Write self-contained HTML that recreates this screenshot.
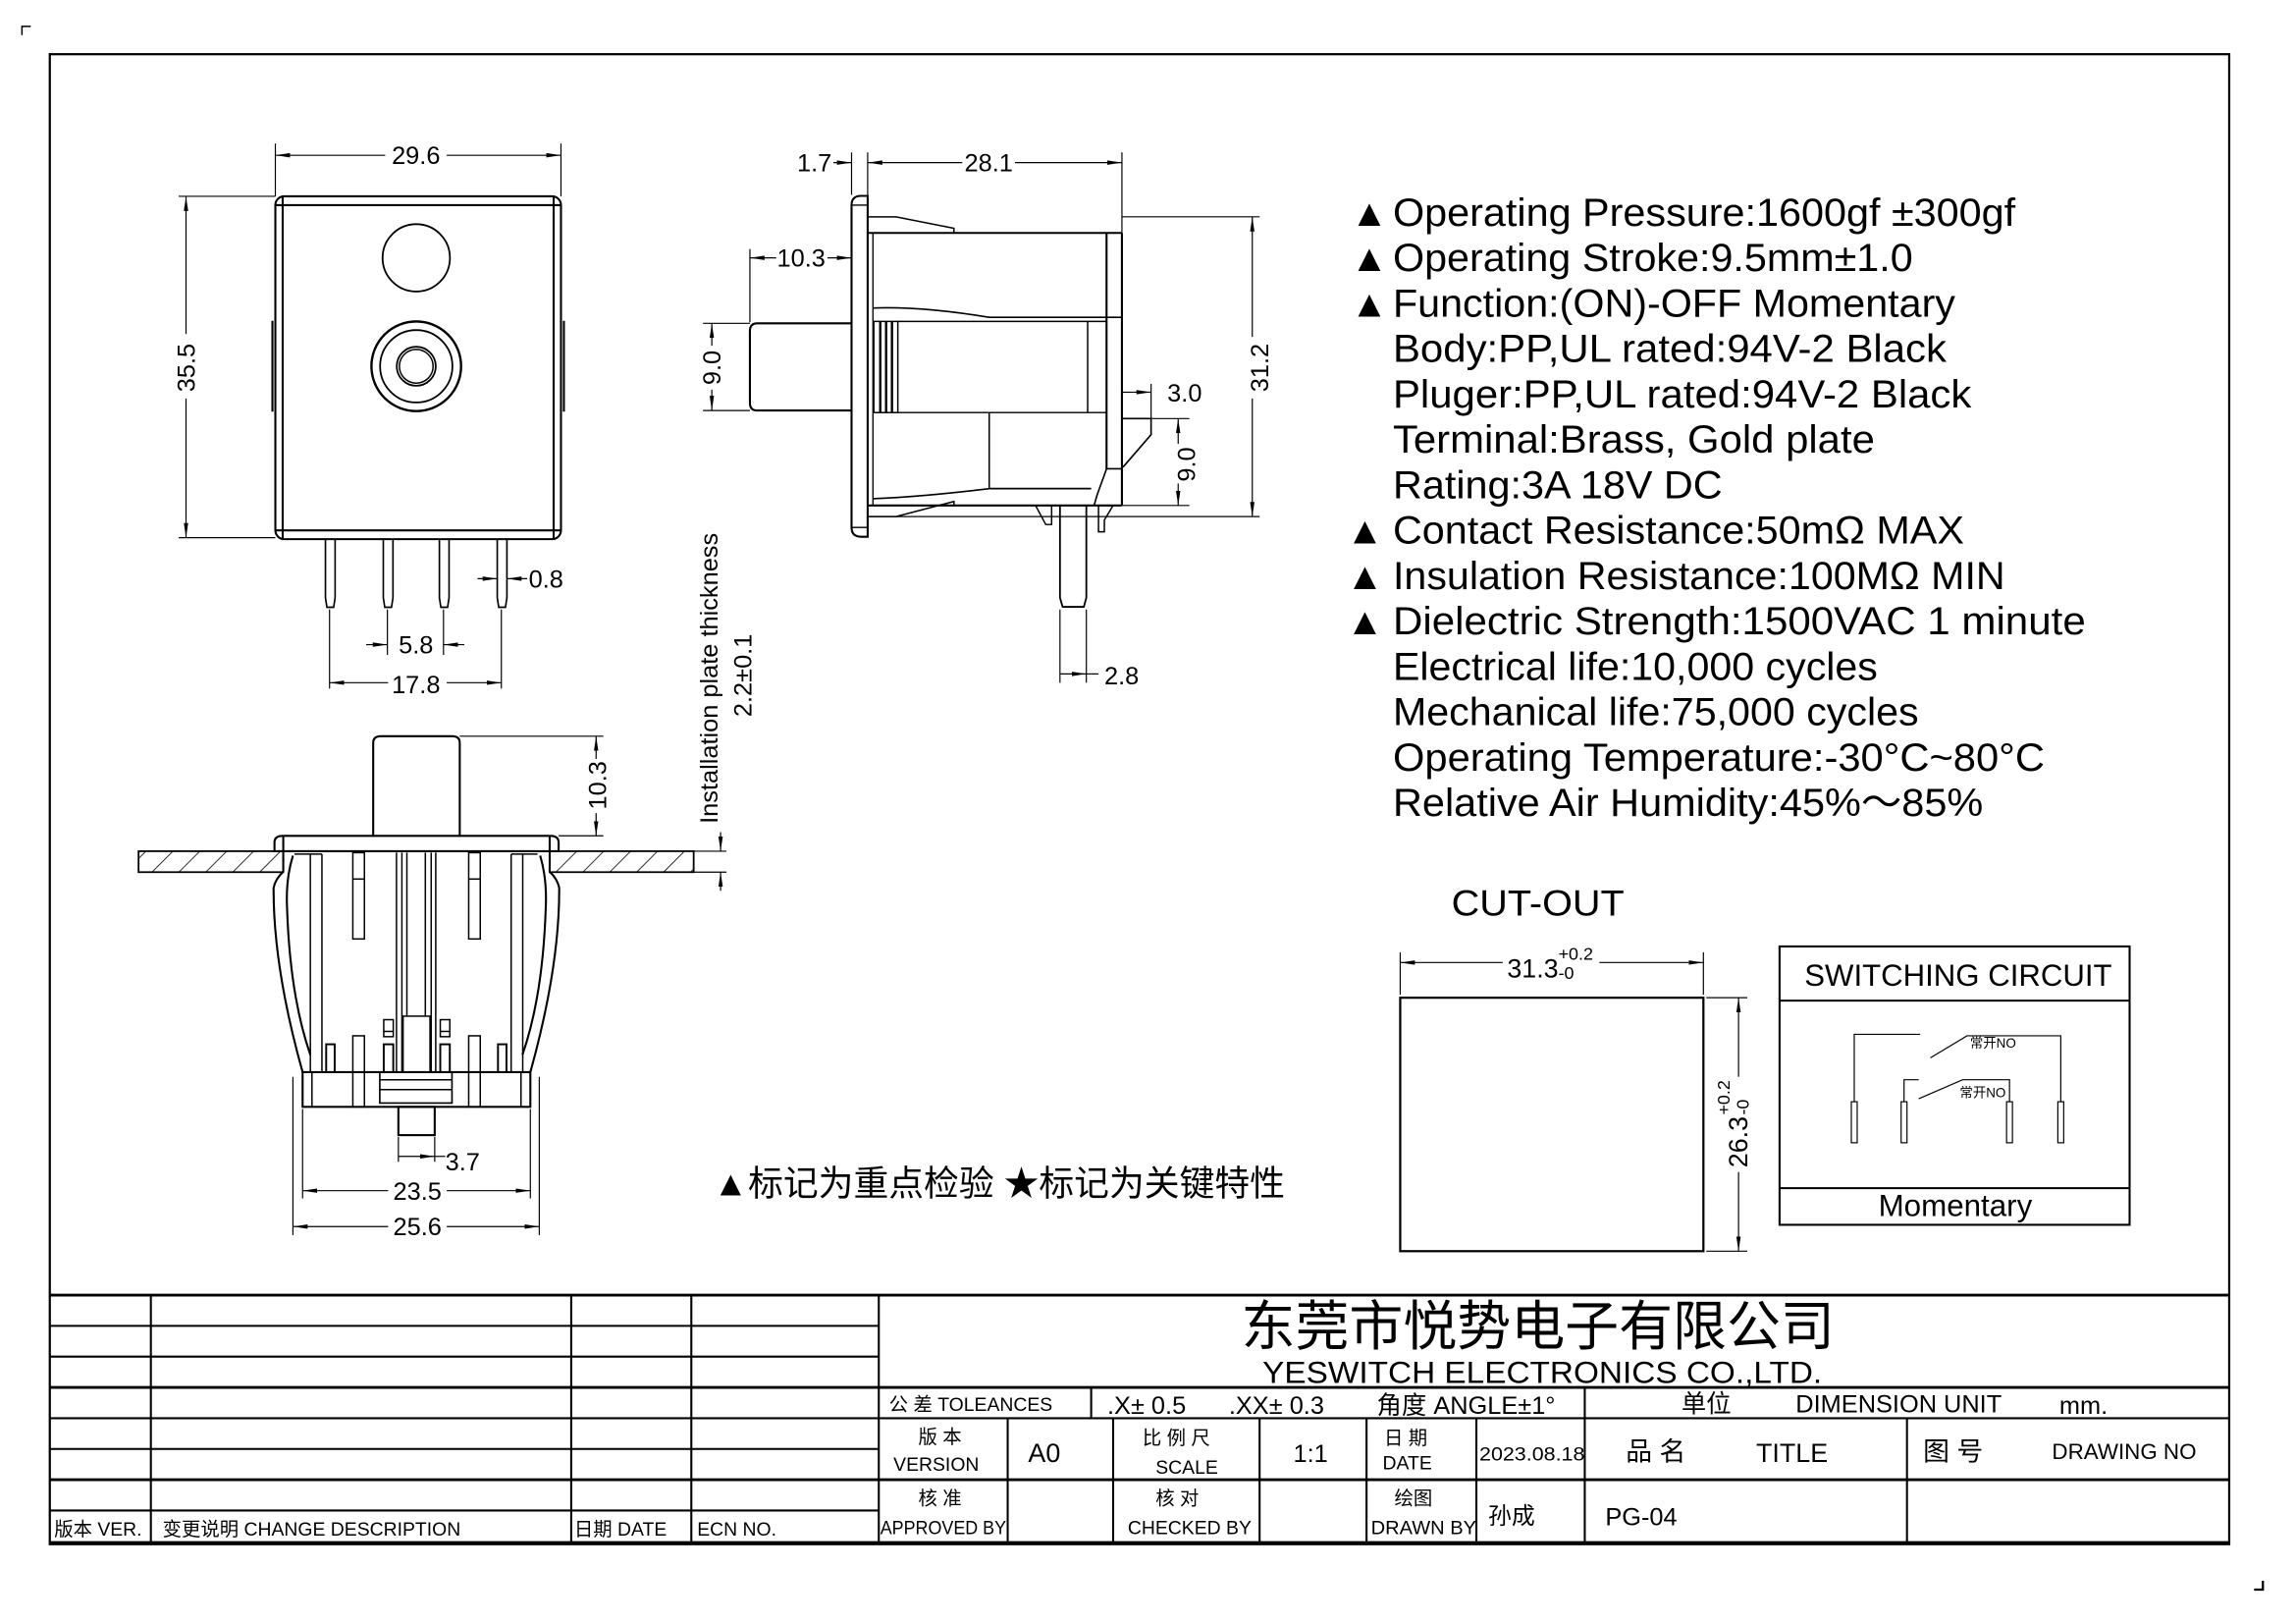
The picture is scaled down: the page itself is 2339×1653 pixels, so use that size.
<!DOCTYPE html>
<html><head><meta charset="utf-8"><style>
html,body{margin:0;padding:0;background:#fff;}
svg{display:block;}
text{font-family:"Liberation Sans","Noto Sans CJK SC",sans-serif;fill:#000;}
</style></head><body>
<svg width="2339" height="1653" viewBox="0 0 1567.6 1107.8" preserveAspectRatio="none" xmlns="http://www.w3.org/2000/svg">
<defs>
<pattern id="h" patternUnits="userSpaceOnUse" width="13" height="13" patternTransform="rotate(45)">
<line x1="0" y1="0" x2="0" y2="13" stroke="#000" stroke-width="1.1"/>
</pattern>
<marker id="a" viewBox="0 0 10 6" refX="10" refY="3" markerWidth="10" markerHeight="6" orient="auto-start-reverse" markerUnits="userSpaceOnUse"><path d="M0,1.5 L10,3 L0,4.5z" fill="#000"/></marker>
</defs>
<g fill="none" stroke="#000">
<path d="M15,24 V18 H21" stroke-width="1"/>
<path d="M1545,1079 V1085 H1539" stroke-width="1.5"/>
<rect x="34" y="37" width="1488" height="1017" stroke-width="1.5"/>

<g stroke-width="1.4">
<line x1="34" y1="884" x2="1522" y2="884" stroke-width="2"/>
<line x1="34" y1="905" x2="600" y2="905"/>
<line x1="34" y1="926" x2="600" y2="926"/>
<line x1="34" y1="947" x2="1522" y2="947" stroke-width="2"/>
<line x1="34" y1="968" x2="1522" y2="968"/>
<line x1="34" y1="989" x2="600" y2="989"/>
<line x1="34" y1="1010" x2="1522" y2="1010" stroke-width="2"/>
<line x1="34" y1="1031" x2="600" y2="1031"/>
<line x1="34" y1="1053" x2="1522" y2="1053" stroke-width="2.2"/>
<line x1="103" y1="884" x2="103" y2="1053"/>
<line x1="390" y1="884" x2="390" y2="1053"/>
<line x1="472" y1="884" x2="472" y2="1053"/>
<line x1="600" y1="884" x2="600" y2="1053"/>
<line x1="745" y1="947" x2="745" y2="968"/>
<line x1="1082" y1="947" x2="1082" y2="1053"/>
<line x1="688" y1="968" x2="688" y2="1053"/>
<line x1="760" y1="968" x2="760" y2="1053"/>
<line x1="860" y1="968" x2="860" y2="1053"/>
<line x1="933" y1="968" x2="933" y2="1053"/>
<line x1="1008" y1="968" x2="1008" y2="1053"/>
<line x1="1302" y1="968" x2="1302" y2="1053"/>
</g>

<g stroke-width="1.4">
<rect x="188" y="134" width="195" height="234" rx="6"/>
<line x1="188" y1="140" x2="383" y2="140"/>
<line x1="188" y1="362" x2="383" y2="362"/>
<line x1="193" y1="134" x2="193" y2="368"/>
<line x1="378" y1="134" x2="378" y2="368"/>
<line x1="186" y1="219" x2="186" y2="281"/>
<line x1="385" y1="219" x2="385" y2="281"/>
<circle cx="284.2" cy="176" r="23" stroke-width="1.2"/>
<circle cx="284.2" cy="250" r="30.6" stroke-width="1.6"/>
<circle cx="284.2" cy="250" r="24.7" stroke-width="1.2"/>
<circle cx="284.2" cy="250" r="13.3" stroke-width="1.2"/>
<circle cx="284.2" cy="250" r="11.5" stroke-width="1"/>
</g>
<g stroke-width="1.1">
<path d="M222.2,368 V408 L223.2,414.5 H227.8 L228.8,408 V368"/>
<path d="M261.7,368 V408 L262.7,414.5 H267.3 L268.3,408 V368"/>
<path d="M300,368 V408 L301,414.5 H305.6 L306.6,408 V368"/>
<path d="M339.5,368 V408 L340.5,414.5 H345.1 L346.1,408 V368"/>
</g>
<g stroke-width="0.8">
<line x1="188" y1="98" x2="188" y2="134"/><line x1="383" y1="98" x2="383" y2="134"/>
<line x1="188" y1="106" x2="263" y2="106" marker-start="url(#a)"/><line x1="305" y1="106" x2="383" y2="106" marker-end="url(#a)"/>
<line x1="122" y1="134" x2="188" y2="134"/><line x1="122" y1="367" x2="188" y2="367"/>
<line x1="127" y1="134" x2="127" y2="228" marker-start="url(#a)"/><line x1="127" y1="272" x2="127" y2="367" marker-end="url(#a)"/>
<line x1="326" y1="395" x2="339.5" y2="395" marker-end="url(#a)"/><line x1="360" y1="395" x2="346.1" y2="395" marker-end="url(#a)"/>
<line x1="225" y1="416" x2="225" y2="470"/><line x1="342.3" y1="416" x2="342.3" y2="470"/>
<line x1="264.5" y1="416" x2="264.5" y2="447"/><line x1="302.8" y1="416" x2="302.8" y2="447"/>
<line x1="250" y1="440" x2="264.5" y2="440" marker-end="url(#a)"/><line x1="317" y1="440" x2="302.8" y2="440" marker-end="url(#a)"/>
<line x1="225" y1="466" x2="265" y2="466" marker-start="url(#a)"/><line x1="305" y1="466" x2="342.3" y2="466" marker-end="url(#a)"/>
</g>

<g stroke-width="1.4">
<path d="M592.4,133.7 H588 Q581.4,133.7 581.4,140 V360 Q581.4,366.4 588,366.4 H592.4 Z"/>
<line x1="581.4" y1="140" x2="592.4" y2="140" stroke-width="0.9"/>
<line x1="581.4" y1="360" x2="592.4" y2="360" stroke-width="0.9"/>
<line x1="592.4" y1="159" x2="766" y2="159"/>
<line x1="592.4" y1="345" x2="766" y2="345"/>
<line x1="766" y1="159" x2="766" y2="345"/>
<line x1="755.5" y1="159" x2="755.5" y2="320"/>
<path d="M592.4,148 H611.8 L651.3,155.8 V159" stroke-width="1"/>
<path d="M592.4,352.6 H611.8 L651.3,342.3 V345" stroke-width="1"/>
<line x1="596" y1="159" x2="596" y2="345" stroke-width="0.9"/>
<path d="M512,226 Q512,220.7 517,220.7 H581.4 M512,226 V275 Q512,280.2 517,280.2 H581.4"/>
<path d="M596,210.2 Q630,209 675.4,216.6 H766" stroke-width="1.1"/>
<rect x="596.6" y="219.4" width="16.4" height="62.2" stroke-width="1"/>
<g stroke-width="1.6"><line x1="601" y1="219.4" x2="601" y2="281.6"/><line x1="605" y1="219.4" x2="605" y2="281.6"/><line x1="609" y1="219.4" x2="609" y2="281.6"/></g>
<line x1="613" y1="219.4" x2="755.5" y2="219.4" stroke-width="1"/>
<line x1="613" y1="281.6" x2="755.5" y2="281.6" stroke-width="1"/>
<line x1="742.6" y1="219.4" x2="742.6" y2="281.6" stroke-width="1"/>
<line x1="675.4" y1="281.6" x2="675.4" y2="334" stroke-width="1"/>
<path d="M596,340.4 Q630,339 675.4,333.5 H745" stroke-width="1.1"/>
<path d="M766,285.7 H785.9 V296.7 L766.7,318.9" stroke-width="1.1"/>
<path d="M755.5,320 H766 M755.5,320 L749,338 L747,345" stroke-width="1.1"/>
<path d="M723.7,345 V408 L725.5,414.2 H740 L741.7,408 V345" stroke-width="1.2"/>
<path d="M707,345 L714,358 H718 V345 M750,345 V363 H754 V355 L760,345" stroke-width="1"/>
</g>
<g stroke-width="0.8">
<line x1="581.4" y1="104" x2="581.4" y2="133"/><line x1="592.4" y1="104" x2="592.4" y2="133"/><line x1="766" y1="104" x2="766" y2="159"/>
<line x1="569" y1="111" x2="581.4" y2="111" marker-end="url(#a)"/>
<line x1="592.4" y1="111" x2="657" y2="111" marker-start="url(#a)"/><line x1="693" y1="111" x2="766" y2="111" marker-end="url(#a)"/>
<line x1="766" y1="148" x2="860" y2="148"/><line x1="592.4" y1="352.6" x2="860" y2="352.6"/>
<line x1="855" y1="148" x2="855" y2="230" marker-start="url(#a)"/><line x1="855" y1="272" x2="855" y2="352.6" marker-end="url(#a)"/>
<line x1="512" y1="170" x2="512" y2="220"/>
<line x1="512" y1="176" x2="530" y2="176" marker-start="url(#a)"/><line x1="565" y1="176" x2="581.4" y2="176" marker-end="url(#a)"/>
<line x1="480" y1="220.7" x2="512" y2="220.7"/><line x1="480" y1="280.2" x2="512" y2="280.2"/>
<line x1="486" y1="220.7" x2="486" y2="236" marker-start="url(#a)"/><line x1="486" y1="266" x2="486" y2="280.2" marker-end="url(#a)"/>
<line x1="766" y1="267.7" x2="785.9" y2="267.7" marker-end="url(#a)"/>
<line x1="785.9" y1="262" x2="785.9" y2="285.7"/>
<line x1="785.9" y1="285.7" x2="812" y2="285.7"/><line x1="766" y1="345" x2="812" y2="345"/>
<line x1="804.4" y1="285.7" x2="804.4" y2="303" marker-start="url(#a)"/><line x1="804.4" y1="330" x2="804.4" y2="345" marker-end="url(#a)"/>
<line x1="723.7" y1="416" x2="723.7" y2="466"/><line x1="741.7" y1="416" x2="741.7" y2="466"/>
<line x1="723.7" y1="460" x2="741.7" y2="460" marker-end="url(#a)"/><line x1="741.7" y1="460" x2="750" y2="460"/>
</g>

<rect x="94.6" y="581" width="98.8" height="14.3" fill="url(#h)" stroke-width="1.2"/>
<rect x="375.3" y="581" width="98.3" height="14.3" fill="url(#h)" stroke-width="1.2"/>
<g stroke-width="1.4">
<path d="M254.8,570.5 V507 Q254.8,502.5 260,502.5 H308.7 Q313.9,502.5 313.9,507 V570.5"/>
<path d="M187.4,581 V575 Q187.4,570.5 193,570.5 H375.8 Q381.4,570.5 381.4,575 V581 Z"/>
<line x1="193.4" y1="570.5" x2="193.4" y2="595"/><line x1="375.3" y1="570.5" x2="375.3" y2="595"/>
<path d="M193.4,595 Q188,600 186.8,606 Q186.5,660 206.6,731.8"/>
<path d="M375.3,595 Q380.6,600 381.8,606 Q382.1,660 362.1,731.8"/>
<path d="M200,584 Q195,600 196,620 Q198,680 211.9,720"/>
<path d="M368.8,584 Q373.6,600 372.6,620 Q370.6,680 356.7,720" />
<rect x="206.6" y="731.8" width="155.5" height="23.7"/>
<rect x="272" y="755.5" width="24.8" height="19.3"/>
<rect x="259.3" y="731.8" width="49.3" height="21.1" stroke-width="1.1"/>
<line x1="259.3" y1="737" x2="308.6" y2="737" stroke-width="1"/>
<line x1="259.3" y1="743.7" x2="308.6" y2="743.7" stroke-width="1"/>
</g>
<g stroke-width="1">
<line x1="211.9" y1="583" x2="211.9" y2="731.8"/><line x1="219.8" y1="583" x2="219.8" y2="731.8"/>
<line x1="349" y1="583" x2="349" y2="731.8"/><line x1="356.9" y1="583" x2="356.9" y2="731.8"/>
<line x1="201" y1="583" x2="219.8" y2="583"/><line x1="349" y1="583" x2="367" y2="583"/>
<rect x="240.9" y="582" width="7.9" height="58.9"/><line x1="240.9" y1="600" x2="248.8" y2="600"/>
<rect x="320" y="582" width="7.9" height="58.9"/><line x1="320" y1="600" x2="327.9" y2="600"/>
<rect x="240.9" y="707" width="7.9" height="48.5"/><rect x="320" y="707" width="7.9" height="48.5"/>
<line x1="270.7" y1="582" x2="270.7" y2="731.8"/><line x1="274.4" y1="582" x2="274.4" y2="731.8"/>
<line x1="277.8" y1="582" x2="277.8" y2="693.6"/><line x1="290.4" y1="582" x2="290.4" y2="693.6"/>
<line x1="294.4" y1="582" x2="294.4" y2="731.8"/><line x1="297.5" y1="582" x2="297.5" y2="731.8"/>
<rect x="275.2" y="693.6" width="18.4" height="38.2"/>
<rect x="262" y="696" width="6.5" height="11.6"/><rect x="300.6" y="696" width="6.5" height="11.6"/>
<line x1="262" y1="704" x2="268.5" y2="704"/><line x1="300.6" y1="704" x2="307.1" y2="704"/>
<rect x="222.7" y="712.8" width="5.8" height="19" stroke-width="1.3"/>
<rect x="262" y="712.8" width="6.5" height="19" stroke-width="1.3"/>
<rect x="300.6" y="712.8" width="6.5" height="19" stroke-width="1.3"/>
<rect x="340" y="712.8" width="5.8" height="19" stroke-width="1.3"/>
<line x1="213" y1="731.8" x2="213" y2="755.5"/><line x1="355.7" y1="731.8" x2="355.7" y2="755.5"/>
</g>
<g stroke-width="0.8">
<line x1="313.9" y1="502.5" x2="412" y2="502.5"/><line x1="381.4" y1="570.5" x2="412" y2="570.5"/>
<line x1="407" y1="502.5" x2="407" y2="518" marker-start="url(#a)"/><line x1="407" y1="555" x2="407" y2="570.5" marker-end="url(#a)"/>
<line x1="473.6" y1="581" x2="496" y2="581"/><line x1="473.6" y1="595.3" x2="496" y2="595.3"/>
<line x1="492" y1="568" x2="492" y2="581" marker-end="url(#a)"/><line x1="492" y1="608" x2="492" y2="595.3" marker-end="url(#a)"/>
<line x1="272" y1="776" x2="272" y2="793"/><line x1="296.8" y1="776" x2="296.8" y2="793"/>
<line x1="272" y1="789.3" x2="296.8" y2="789.3" marker-end="url(#a)"/><line x1="296.8" y1="789.3" x2="304" y2="789.3"/>
<line x1="206.6" y1="757" x2="206.6" y2="818"/><line x1="362.1" y1="757" x2="362.1" y2="818"/>
<line x1="206.6" y1="812.7" x2="265" y2="812.7" marker-start="url(#a)"/><line x1="305" y1="812.7" x2="362.1" y2="812.7" marker-end="url(#a)"/>
<line x1="200" y1="735" x2="200" y2="843"/><line x1="368.2" y1="735" x2="368.2" y2="843"/>
<line x1="200" y1="837.2" x2="265" y2="837.2" marker-start="url(#a)"/><line x1="305" y1="837.2" x2="368.2" y2="837.2" marker-end="url(#a)"/>
</g>

<rect x="956" y="681" width="207" height="173" stroke-width="1.5"/>
<g stroke-width="0.8">
<line x1="956" y1="650" x2="956" y2="679"/><line x1="1163" y1="650" x2="1163" y2="679"/>
<line x1="956" y1="657" x2="1026" y2="657" marker-start="url(#a)"/><line x1="1092" y1="657" x2="1163" y2="657" marker-end="url(#a)"/>
<line x1="1165" y1="681" x2="1193" y2="681"/><line x1="1165" y1="854" x2="1193" y2="854"/>
<line x1="1187" y1="681" x2="1187" y2="735" marker-start="url(#a)"/><line x1="1187" y1="800" x2="1187" y2="854" marker-end="url(#a)"/>
</g>

<rect x="1215" y="646" width="239" height="190" stroke-width="1.4"/>
<line x1="1215" y1="683" x2="1454" y2="683" stroke-width="1.4"/>
<line x1="1215" y1="811" x2="1454" y2="811" stroke-width="1.4"/>
<g stroke-width="0.8">
<path d="M1266,752 V706 H1311"/><path d="M1318,722 L1343,707 H1407 V752"/>
<path d="M1300,752 V737 H1310"/><path d="M1310,750 L1340,737 H1372 V752"/>
<rect x="1264" y="752" width="4" height="28"/><rect x="1298" y="752" width="4" height="28"/>
<rect x="1370" y="752" width="4" height="28"/><rect x="1405" y="752" width="4" height="28"/>
</g>
</g>

<g font-size="17">
<text x="284" y="112" text-anchor="middle">29.6</text>
<text transform="translate(133,251) rotate(-90)" text-anchor="middle">35.5</text>
<text x="361" y="401">0.8</text>
<text x="284" y="446" text-anchor="middle">5.8</text>
<text x="284" y="473" text-anchor="middle">17.8</text>
<text x="556" y="117" text-anchor="middle">1.7</text>
<text x="675" y="117" text-anchor="middle">28.1</text>
<text x="547" y="182" text-anchor="middle">10.3</text>
<text transform="translate(492,251) rotate(-90)" text-anchor="middle">9.0</text>
<text x="797" y="274">3.0</text>
<text transform="translate(816,317) rotate(-90)" text-anchor="middle">9.0</text>
<text transform="translate(866,251) rotate(-90)" text-anchor="middle">31.2</text>
<text x="754" y="467">2.8</text>
<text transform="translate(414,536) rotate(-90)" text-anchor="middle">10.3</text>
<text x="304" y="799">3.7</text>
<text x="285" y="819" text-anchor="middle">23.5</text>
<text x="285" y="843" text-anchor="middle">25.6</text>
<text transform="translate(490,463) rotate(-90)" text-anchor="middle">Installation plate thickness</text>
<text transform="translate(513,461) rotate(-90)" text-anchor="middle">2.2±0.1</text>
</g>
<text x="487" y="816" font-size="24">▲标记为重点检验 ★标记为关键特性</text>

<g font-size="27">
<text x="922" y="154" font-size="26">▲</text><text x="951" y="154" textLength="425" lengthAdjust="spacingAndGlyphs">Operating Pressure:1600gf ±300gf</text>
<text x="922" y="185" font-size="26">▲</text><text x="951" y="185" textLength="355" lengthAdjust="spacingAndGlyphs">Operating Stroke:9.5mm±1.0</text>
<text x="922" y="216" font-size="26">▲</text><text x="951" y="216" textLength="384" lengthAdjust="spacingAndGlyphs">Function:(ON)-OFF Momentary</text>
<text x="951" y="247" textLength="378" lengthAdjust="spacingAndGlyphs">Body:PP,UL rated:94V-2 Black</text>
<text x="951" y="278" textLength="395" lengthAdjust="spacingAndGlyphs">Pluger:PP,UL rated:94V-2 Black</text>
<text x="951" y="309" textLength="329" lengthAdjust="spacingAndGlyphs">Terminal:Brass, Gold plate</text>
<text x="951" y="340" textLength="225" lengthAdjust="spacingAndGlyphs">Rating:3A 18V DC</text>
<text x="919" y="371" font-size="26">▲</text><text x="951" y="371" textLength="390" lengthAdjust="spacingAndGlyphs">Contact Resistance:50mΩ MAX</text>
<text x="919" y="402" font-size="26">▲</text><text x="951" y="402" textLength="418" lengthAdjust="spacingAndGlyphs">Insulation Resistance:100MΩ MIN</text>
<text x="919" y="433" font-size="26">▲</text><text x="951" y="433" textLength="473" lengthAdjust="spacingAndGlyphs">Dielectric Strength:1500VAC  1 minute</text>
<text x="951" y="464" textLength="331" lengthAdjust="spacingAndGlyphs">Electrical life:10,000 cycles</text>
<text x="951" y="495" textLength="359" lengthAdjust="spacingAndGlyphs">Mechanical life:75,000 cycles</text>
<text x="951" y="526" textLength="445" lengthAdjust="spacingAndGlyphs">Operating Temperature:-30°C~80°C</text>
<text x="951" y="557" textLength="403" lengthAdjust="spacingAndGlyphs">Relative Air Humidity:45%～85%</text>
</g>

<text x="991" y="625" font-size="25" textLength="118" lengthAdjust="spacingAndGlyphs">CUT-OUT</text>
<text x="1029" y="667" font-size="18">31.3</text><text x="1064" y="655" font-size="12">+0.2</text><text x="1064" y="668" font-size="12">-0</text>
<g transform="translate(1193,797) rotate(-90)"><text x="0" y="0" font-size="18">26.3</text><text x="36" y="-12" font-size="12">+0.2</text><text x="36" y="1" font-size="12">-0</text></g>
<text x="1337" y="673" font-size="21" text-anchor="middle" textLength="210" lengthAdjust="spacingAndGlyphs">SWITCHING CIRCUIT</text>
<text x="1335" y="830" font-size="21" text-anchor="middle">Momentary</text>
<text x="1345" y="715" font-size="9" font-family="Noto Serif CJK SC,serif">常开NO</text>
<text x="1338" y="749" font-size="9" font-family="Noto Serif CJK SC,serif">常开NO</text>

<text x="1050" y="918" font-size="37" text-anchor="middle" textLength="405" lengthAdjust="spacingAndGlyphs" font-family="Noto Serif CJK SC,serif">东莞市悦势电子有限公司</text>
<text x="1053" y="944" font-size="21" text-anchor="middle" textLength="382" lengthAdjust="spacingAndGlyphs">YESWITCH ELECTRONICS CO.,LTD.</text>

<g font-size="13">
<text x="37" y="1048">版本 VER.</text>
<text x="111" y="1048">变更说明  CHANGE DESCRIPTION</text>
<text x="392" y="1048">日期  DATE</text>
<text x="476" y="1048">ECN NO.</text>
<text x="607" y="963">公  差 TOLEANCES</text>
<text x="627" y="985">版  本</text>
<text x="610" y="1004">VERSION</text>
<text x="780" y="986">比 例 尺</text>
<text x="789" y="1006">SCALE</text>
<text x="945" y="986">日  期</text>
<text x="944" y="1003">DATE</text>
<text x="1010" y="997" textLength="72" lengthAdjust="spacingAndGlyphs">2023.08.18</text>
<text x="627" y="1027">核  准</text>
<text x="601" y="1047" textLength="86" lengthAdjust="spacingAndGlyphs">APPROVED BY</text>
<text x="789" y="1027">核  对</text>
<text x="770" y="1047">CHECKED BY</text>
<text x="952" y="1027">绘图</text>
<text x="936" y="1047" textLength="72" lengthAdjust="spacingAndGlyphs">DRAWN BY</text>
</g>
<g font-size="17">
<text x="756" y="965">.X± 0.5</text>
<text x="839" y="965">.XX± 0.3</text>
<text x="940" y="965">角度  ANGLE±1°</text>
<text x="1148" y="964">单位</text>
<text x="1226" y="964">DIMENSION UNIT</text>
<text x="1406" y="965">mm.</text>
<text x="702" y="998" font-size="18">A0</text>
<text x="883" y="998">1:1</text>
<text x="1110" y="997" font-size="18">品  名</text>
<text x="1199" y="998" font-size="18">TITLE</text>
<text x="1313" y="997" font-size="18">图  号</text>
<text x="1401" y="996" font-size="15">DRAWING NO</text>
<text x="1016" y="1040" font-size="16">孙成</text>
<text x="1096" y="1041" font-size="17">PG-04</text>
</g>
</svg>
</body></html>
